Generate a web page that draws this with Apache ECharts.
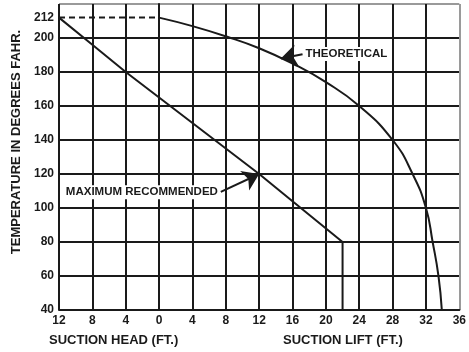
<!DOCTYPE html>
<html>
<head>
<meta charset="utf-8">
<script src="https://cdn.jsdelivr.net/npm/echarts@6/dist/echarts.min.js"></script>
<style>html,body{margin:0;padding:0;background:#fff;}#c{width:469px;height:352px;}</style>
</head>
<body>
<div id="c"></div>
<script>
// ---- data ----
const xTickValues = [-12, -8, -4, 0, 4, 8, 12, 16, 20, 24, 28, 32, 36];
const yTickLabels = [40, 60, 80, 100, 120, 140, 160, 180, 200, 212];
const theoreticalX = [0, 4, 8, 12, 16, 20, 24, 28, 30.4, 32, 32.8, 33.5, 33.9];
const theoreticalY = [212, 207, 201, 194, 185, 174, 160, 140, 120, 100, 80, 60, 40];
const maxRecX = [-12, -8, -4, 0, 4, 8, 12, 16, 22, 22];
const maxRecY = [212, 196, 180, 165, 150, 135, 120, 104, 80, 40];
const boilingX = [-12, 0];
const boilingY = [212, 212];
const theoLabel = 'THEORETICAL';
const theoArrowTail = [17.2, 190.5];
const theoArrowTip = [14.6, 188];
const maxLabel = 'MAXIMUM RECOMMENDED';
const maxArrowTail = [7.4, 109.5];
const maxArrowTip = [12, 120];
const xNameLeft = 'SUCTION HEAD (FT.)';
const xNameRight = 'SUCTION LIFT (FT.)';
const yName = 'TEMPERATURE IN DEGREES FAHR.';

const zip = (xs, ys) => xs.map((x, i) => [x, ys[i]]);
const FONT = 'Liberation Sans, Arial, Helvetica, sans-serif';
const INK = '#1a1a1a';

const xLineColors = xTickValues.map((v, i) => i === xTickValues.length - 1 ? '#9a9a9a' : INK);
const yLineColors = [40, 60, 80, 100, 120, 140, 160, 180, 200, 220].map(v => v === 220 ? '#9a9a9a' : INK);

const arrowLabel = (text) => ({
  show: true, position: 'start', formatter: text, distance: 1,
  color: INK, fontFamily: FONT, fontWeight: 'bold', fontSize: 11.5,
  backgroundColor: '#fff', padding: [1, 2]
});

const chart = echarts.init(document.getElementById('c'), null, { renderer: 'canvas' });
chart.setOption({
  animation: false,
  backgroundColor: '#fff',
  grid: { left: 59, right: 6, top: 4, bottom: 42, containLabel: false },
  title: [
    { text: xNameLeft, left: 49, top: 334, padding: 0,
      textStyle: { fontFamily: FONT, fontSize: 13, fontWeight: 'bold', color: INK } },
    { text: xNameRight, left: 283, top: 334, padding: 0,
      textStyle: { fontFamily: FONT, fontSize: 13, fontWeight: 'bold', color: INK } }
  ],
  graphic: [{
    type: 'text', x: 16, y: 142, rotation: Math.PI / 2,
    style: { text: yName, fill: INK, font: 'bold 13px ' + FONT, align: 'center', verticalAlign: 'middle' }
  }],
  xAxis: {
    type: 'value', min: -12, max: 36, interval: 4,
    axisLine: { show: true, lineStyle: { color: INK, width: 2 } },
    axisTick: { show: false },
    axisLabel: { formatter: v => String(Math.abs(v)), color: INK, fontFamily: FONT, fontWeight: 'bold', fontSize: 12, margin: 5 },
    splitLine: { show: true, lineStyle: { color: xLineColors, width: 2 } }
  },
  yAxis: {
    type: 'value', min: 40, max: 220, interval: 20,
    axisLine: { show: true, lineStyle: { color: INK, width: 2 } },
    axisTick: { show: false },
    axisLabel: { customValues: yTickLabels, color: INK, fontFamily: FONT, fontWeight: 'bold', fontSize: 12, margin: 5 },
    splitLine: { show: true, lineStyle: { color: yLineColors, width: 2 } }
  },
  series: [
    {
      type: 'line', name: 'theoretical', data: zip(theoreticalX, theoreticalY),
      smooth: 0.5, showSymbol: false, silent: true,
      lineStyle: { color: INK, width: 2 },
      markLine: {
        silent: true, symbol: ['none', 'arrow'], symbolSize: 16,
        lineStyle: { type: 'solid', color: INK, width: 2 },
        data: [[{ coord: theoArrowTail, label: arrowLabel(theoLabel) }, { coord: theoArrowTip }]]
      }
    },
    {
      type: 'line', name: 'max', data: zip(maxRecX, maxRecY),
      showSymbol: false, silent: true,
      lineStyle: { color: INK, width: 2 },
      markLine: {
        silent: true, symbol: ['none', 'arrow'], symbolSize: 16,
        lineStyle: { type: 'solid', color: INK, width: 2 },
        data: [[{ coord: maxArrowTail, label: arrowLabel(maxLabel) }, { coord: maxArrowTip }]]
      }
    },
    {
      type: 'line', name: 'boiling', data: zip(boilingX, boilingY),
      showSymbol: false, silent: true,
      lineStyle: { color: INK, width: 2, type: [6, 4] }
    }
  ]
});
</script>
</body>
</html>
